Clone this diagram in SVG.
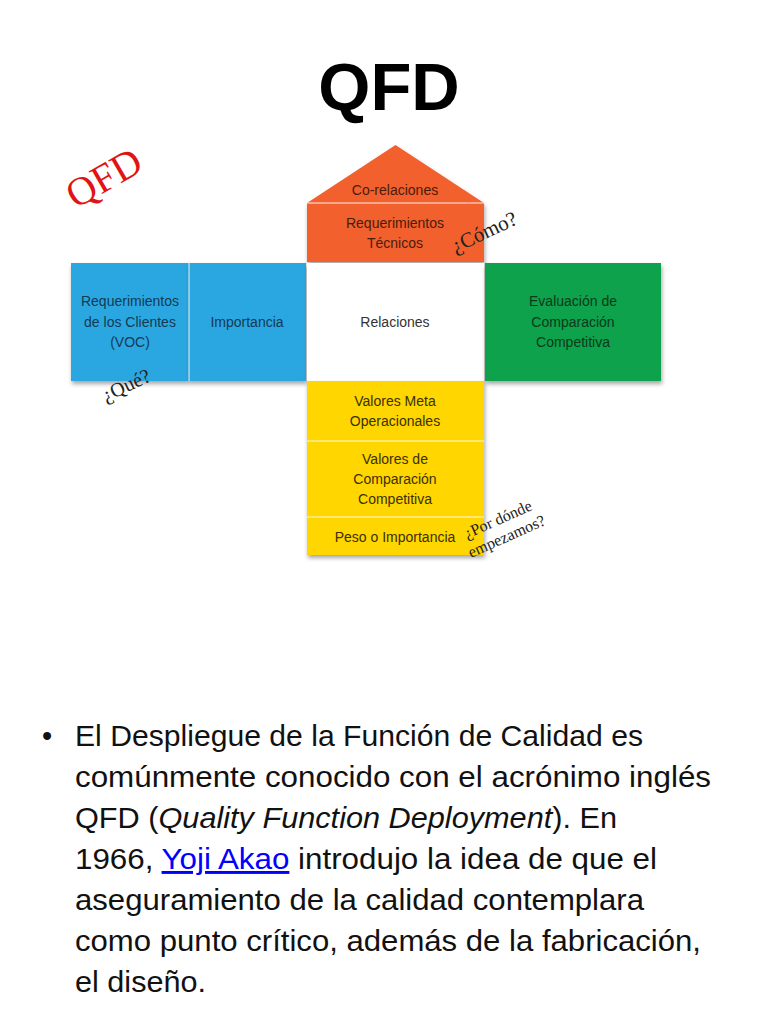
<svg xmlns="http://www.w3.org/2000/svg" width="768" height="1024" viewBox="0 0 768 1024">
<defs>
<filter id="sh" x="-10%" y="-10%" width="120%" height="130%">
<feDropShadow dx="1" dy="3" stdDeviation="2" flood-color="#000" flood-opacity="0.35"/>
</filter>
<style>
.lbl{font-family:"Liberation Sans",Arial,sans-serif;font-size:14px;text-anchor:middle}
.hand{font-family:"Liberation Serif","Times New Roman",serif;fill:#222}
.body{font-family:"Liberation Sans",Arial,sans-serif;font-size:29px;fill:#111}
.div{stroke:#ffffff;stroke-opacity:0.6;stroke-width:1.5}
</style>
</defs>
<rect width="768" height="1024" fill="#ffffff"/>
<text x="389" y="110" font-family="Liberation Sans,Arial,sans-serif" font-weight="bold" font-size="67" text-anchor="middle" fill="#000">QFD</text>

<g id="stamp" transform="translate(104,178) rotate(-30)">
<text x="0" y="13" class="hand" font-size="40" text-anchor="middle" style="fill:#e01414">QFD</text>
</g>

<g id="roof">
<polygon points="395.5,145 484,203 307,203" fill="#F2602F" filter="url(#sh)"/>
<text x="395" y="195" class="lbl" fill="#4a1c0a">Co-relaciones</text>
</g>
<g id="tecnicos">
<rect x="307" y="203" width="177" height="59" fill="#F2602F" filter="url(#sh)"/>
<line x1="307" y1="203" x2="484" y2="203" class="div"/>
<text x="395" y="228" class="lbl" fill="#4a1c0a">Requerimientos</text>
<text x="395" y="248" class="lbl" fill="#4a1c0a">Técnicos</text>
</g>
<g id="clientes">
<rect x="71" y="263" width="118" height="118" fill="#2BA7E0" filter="url(#sh)"/>
<text x="130" y="306" class="lbl" fill="#143a55">Requerimientos</text>
<text x="130" y="327" class="lbl" fill="#143a55">de los Clientes</text>
<text x="130" y="347" class="lbl" fill="#143a55">(VOC)</text>
</g>
<g id="importancia">
<rect x="189" y="263" width="117" height="118" fill="#2BA7E0" filter="url(#sh)"/>
<line x1="189" y1="263" x2="189" y2="381" class="div"/>
<text x="247" y="327" class="lbl" fill="#143a55">Importancia</text>
</g>
<g id="relaciones">
<rect x="307" y="263" width="177" height="118" fill="#ffffff" filter="url(#sh)"/>
<text x="395" y="327" class="lbl" fill="#333">Relaciones</text>
</g>
<g id="evaluacion">
<rect x="485" y="263" width="176" height="118" fill="#0EA24B" filter="url(#sh)"/>
<text x="573" y="306" class="lbl" fill="#0b3a1a">Evaluación de</text>
<text x="573" y="327" class="lbl" fill="#0b3a1a">Comparación</text>
<text x="573" y="347" class="lbl" fill="#0b3a1a">Competitiva</text>
</g>
<g id="metas">
<rect x="307" y="381" width="177" height="174" fill="#FFD600" filter="url(#sh)"/>
<text x="395" y="406" class="lbl" fill="#3a3000">Valores Meta</text>
<text x="395" y="426" class="lbl" fill="#3a3000">Operacionales</text>
</g>
<g id="comparacion">
<line x1="307" y1="441" x2="484" y2="441" class="div"/>
<text x="395" y="464" class="lbl" fill="#3a3000">Valores de</text>
<text x="395" y="484" class="lbl" fill="#3a3000">Comparación</text>
<text x="395" y="504" class="lbl" fill="#3a3000">Competitiva</text>
</g>
<g id="peso">
<line x1="307" y1="517" x2="484" y2="517" class="div"/>
<text x="395" y="542" class="lbl" fill="#3a3000">Peso o Importancia</text>
</g>

<g id="como" transform="translate(484,232) rotate(-25)">
<text x="0" y="7" class="hand" font-size="21" text-anchor="middle">¿Cómo?</text>
</g>
<g id="que" transform="translate(126,385) rotate(-25)">
<text x="0" y="7" class="hand" font-size="20" text-anchor="middle">¿Qué?</text>
</g>
<g id="pordonde" transform="translate(467,539) rotate(-24)">
<text x="0" y="0" class="hand" font-size="16">¿Por dónde</text>
<text x="-4" y="19" class="hand" font-size="16">empezamos?</text>
</g>

<g id="bullet-text">
<text x="42" y="746" class="body">•</text>
<text x="75" y="746" class="body" textLength="568" lengthAdjust="spacingAndGlyphs">El Despliegue de la Función de Calidad es</text>
<text x="75" y="787" class="body" textLength="636" lengthAdjust="spacingAndGlyphs">comúnmente conocido con el acrónimo inglés</text>
<text x="75" y="828" class="body" textLength="542" lengthAdjust="spacingAndGlyphs">QFD (<tspan font-style="italic">Quality Function Deployment</tspan>). En</text>
<text x="75" y="869" class="body" textLength="582" lengthAdjust="spacingAndGlyphs">1966, <tspan fill="#0000ff" text-decoration="underline">Yoji Akao</tspan> introdujo la idea de que el</text>
<text x="75" y="910" class="body" textLength="569" lengthAdjust="spacingAndGlyphs">aseguramiento de la calidad contemplara</text>
<text x="75" y="951" class="body" textLength="626" lengthAdjust="spacingAndGlyphs">como punto crítico, además de la fabricación,</text>
<text x="75" y="992" class="body" textLength="131" lengthAdjust="spacingAndGlyphs">el diseño.</text>
</g>
</svg>
